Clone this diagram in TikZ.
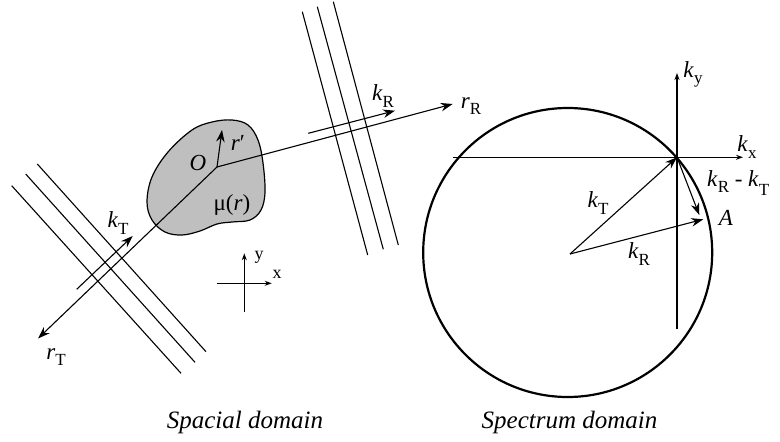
\documentclass[tikz,border=0pt]{standalone}
\usepackage{fontspec}
\setmainfont{Liberation Serif}
\usetikzlibrary{arrows.meta}
\newcommand{\ksub}[2]{\textit{#1}\raisebox{-0.27em}{\fontsize{17}{17}\selectfont #2}}
\tikzset{
  vec/.style={line width=1.1pt, -{Stealth[length=12pt,width=8.5pt]}},
  waveline/.style={line width=1.1pt},
  lbl/.style={font=\fontsize{23}{25}\selectfont, inner sep=0pt},
  axlbl/.style={font=\fontsize{18}{20}\selectfont, inner sep=0pt},
  domainlbl/.style={font=\fontsize{25}{28}\selectfont\itshape, inner sep=0pt, anchor=base},
}
\begin{document}
\begin{tikzpicture}[x=1pt, y=-1pt]
    \useasboundingbox (0,0) rectangle (780,442);
    % spacial domain
    \filldraw[fill=black!25, line width=1.2pt] plot[smooth cycle, tension=0.6] coordinates {(232,120) (248,125) (258,140) (263,163) (265,192) (261,210) (250,220) (232,222) (217,224) (200,231) (182,235) (165,232) (152,220) (147,202) (152,177) (168,152) (192,130) (212,122)};
    \foreach \xa/\ya/\xb/\yb in {11.7/185.7/181/373.3, 25.7/174/195/362.3, 37.3/164/206/351.7, 302.3/11.7/367.7/255, 317.3/6.7/383.3/249.3, 333.3/1.7/398.3/245}
        \draw[waveline] (\xa,\ya) -- (\xb,\yb);
    \coordinate (O) at (217,167);
    \coordinate (rT) at (38,338.5);
    \coordinate (rR) at (452.7,104);
    \coordinate (rp) at (222,130);
    \coordinate (kTs) at (76.7,289.3);
    \coordinate (kTe) at (132.7,236);
    \coordinate (kRs) at (308.3,133.3);
    \coordinate (kRe) at (395,110.7);
    \draw[vec] (O) -- (rT);
    \draw[vec] (O) -- (rR);
    \draw[vec] (O) -- (rp);
    \draw[vec] (kTs) -- (kTe);
    \draw[vec] (kRs) -- (kRe);
    \node[lbl] (Olbl) at (198,163) {\textit{O}};
    \node[lbl] (rplbl) at (238,143) {\textit{r}′};
    \node[lbl] (mulbl) at (232,205) {μ(\textit{r})};
    \node[lbl] (kTlbl) at (118,223) {\ksub{k}{T}};
    \node[lbl] (rTlbl) at (56,357) {\ksub{r}{T}};
    \node[lbl] (kRlbl) at (383,96) {\ksub{k}{R}};
    \node[lbl] (rRlbl) at (471,106) {\ksub{r}{R}};
    \coordinate (xs) at (216.7,283.3);
    \coordinate (xe) at (271.7,283.3);
    \coordinate (ys) at (244.3,311.7);
    \coordinate (ye) at (244.3,253.3);
    \draw[vec, -{Stealth[length=7pt,width=5pt]}] (xs) -- (xe);
    \draw[vec, -{Stealth[length=7pt,width=5pt]}] (ys) -- (ye);
    \node[axlbl] (xlbl) at (277,274) {x};
    \node[axlbl] (ylbl) at (259,257) {y};
    \node[domainlbl] (spacial) at (245,428) {Spacial domain};
    % spectrum domain
    \draw[line width=2.2pt] (567.7,252.5) circle[radius=144.5];
    \coordinate (C) at (570,254);
    \coordinate (K0) at (677,157.3);
    \coordinate (kxs) at (453.3,157.3);
    \coordinate (kxe) at (743,157.3);
    \coordinate (kys) at (677,329);
    \coordinate (kye) at (677,73);
    \coordinate (A) at (703.3,219.3);
    \coordinate (D) at (699.3,215);
    \draw[vec, -{Stealth[length=7pt,width=5pt]}] (kxs) -- (kxe);
    \draw[vec, -{Stealth[length=7pt,width=5pt]}] (kys) -- (kye);
    \draw[vec] (C) -- (K0);
    \draw[vec] (C) -- (A);
    \draw[vec] (K0) -- (D);
    \node[lbl] (kxlbl) at (747,147) {\ksub{k}{x}};
    \node[lbl] (kylbl) at (693,74) {\ksub{k}{y}};
    \node[lbl] (kTvlbl) at (598,203) {\ksub{k}{T}};
    \node[lbl] (kRvlbl) at (639,254) {\ksub{k}{R}};
    \node[lbl, anchor=base west] (kdiff) at (707,186.7) {\ksub{k}{R} - \textit{k}\raisebox{-0.38em}{\fontsize{17}{17}\selectfont T}};
    \node[lbl] (Albl) at (726,218) {\textit{A}};
    \node[domainlbl] (spectrum) at (569.5,428) {Spectrum domain};
\end{tikzpicture}
\end{document}
